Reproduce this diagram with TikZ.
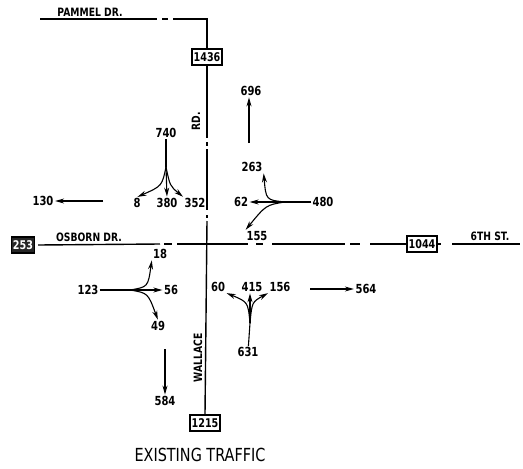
\documentclass[tikz,border=0pt]{standalone}
\usepackage{fontspec}
\setmainfont{DejaVu Sans}[FakeStretch=0.8]
\usetikzlibrary{arrows.meta}
\begin{document}
\begin{tikzpicture}[x=1pt,y=-1pt,
  lab/.style={inner sep=1pt,font=\fontsize{12.5}{14}\selectfont\bfseries},
  road/.style={line width=1.4pt},
  rname/.style={inner sep=0pt,font=\fontsize{11.5}{13}\selectfont\bfseries},
  cnt/.style={draw,line width=1.4pt,inner sep=1.5pt,minimum width=30pt,minimum height=16pt,font=\fontsize{12}{13}\selectfont\bfseries},
  mv/.style={line width=1.1pt},
  arr/.style={mv,-{Stealth[length=9pt,width=5pt]},shorten >=0.5pt}]
\useasboundingbox (0,0) rectangle (523,469);

% ---- roads ----
\node[cnt] (b1436) at (207,57) {1436};
\node[cnt] (b1215) at (205,423) {1215};
\node[cnt] (b1044) at (422,244) {1044};
\node[cnt,fill=black!85,text=white,minimum width=23pt] (b253) at (23,245) {253};

\coordinate (pA) at (40,19);
\coordinate (pB) at (157,19);
\coordinate (pC) at (162,19);
\coordinate (pD) at (168,19);
\coordinate (pE) at (173,19);
\coordinate (pF) at (207,19);
\draw[road] (pA) -- (pB);
\draw[road] (pC) -- (pD);
\draw[road] (pE) -- (pF) -- (b1436.north);

\coordinate (v1) at (207,138);
\coordinate (v2) at (207,142);
\coordinate (v3) at (207,146);
\coordinate (v4) at (207,210);
\coordinate (v5) at (207,215);
\coordinate (v6) at (207,218);
\draw[road] (b1436.south) -- (v1);
\draw[road] (v2) -- (v3);
\draw[road] (v3) ++(0,3) -- (v4);
\draw[road] (v5) -- (v6);
\draw[road] (v6) ++(0,3) -- (b1215.north);

\coordinate (h1) at (160,244);
\coordinate (h2) at (164,244);
\coordinate (h3) at (172,244);
\coordinate (h4) at (177,244);
\coordinate (h5) at (248,244);
\coordinate (h6) at (256,244);
\coordinate (h7) at (263,244);
\coordinate (h8) at (272,244);
\coordinate (h9) at (345,244);
\coordinate (h10) at (350,244);
\coordinate (h11) at (360,244);
\coordinate (h12) at (370,244);
\coordinate (h13) at (441,244);
\coordinate (h14) at (452,244);
\coordinate (h15) at (520,244);
\draw[road] (b253.east) ++(3,0) -- (h1);
\draw[road] (h2) -- (h3);
\draw[road] (h4) -- (h5);
\draw[road] (h6) -- (h7);
\draw[road] (h8) -- (h9);
\draw[road] (h10) -- (h11);
\draw[road] (h12) -- (b1044.west);
\draw[road] (b1044.east) -- (h13);
\draw[road] (h14) -- (h15);

\node[rname] (tpam) at (90,12) {PAMMEL DR.};
\node[rname] (tosb) at (89,237) {OSBORN DR.};
\node[rname] (t6th) at (490,236) {6TH ST.};
\node[rname,rotate=90] (trd) at (196,121) {RD.};
\node[rname,rotate=90] (twal) at (198,358) {WALLACE};

% ---- NW: southbound from 740 ----
\node[lab] (n740) at (166,133) {740};
\coordinate (nwb) at (166,167);
\node[lab] (n8) at (137,203) {8};
\node[lab] (n380) at (167,203) {380};
\node[lab] (n352) at (195,203) {352};
\draw[mv] (n740) -- (nwb);
\draw[arr] (nwb) .. controls (162,186) .. (n8.north);
\draw[arr] (nwb) -- (n380.north);
\draw[arr] (nwb) .. controls (170,186) .. (n352.north west);

% ---- 130 ----
\node[lab] (n130) at (43,201) {130};
\coordinate (s130) at (103,201);
\draw[arr] (s130) -- (n130);

% ---- 696 ----
\node[lab] (n696) at (251,91) {696};
\coordinate (s696) at (249,143);
\draw[arr] (s696) -- (n696.south -| s696);

% ---- NE: westbound from 480 ----
\node[lab] (n480) at (323,202) {480};
\coordinate (neb) at (285,202);
\node[lab] (n263) at (252,167) {263};
\node[lab] (n62) at (241,202) {62};
\node[lab] (n155) at (257,236) {155};
\draw[mv] (n480) -- (neb);
\draw[arr] (neb) .. controls (266,200) .. (n263.south east);
\draw[arr] (neb) -- (n62);
\draw[arr] (neb) .. controls (266,205) .. (n155.north west);

% ---- SW: eastbound from 123 ----
\node[lab] (n123) at (88,290) {123};
\coordinate (swb) at (130,290);
\node[lab] (n18) at (160,254) {18};
\node[lab] (n56) at (171,290) {56};
\node[lab] (n49) at (158,326) {49};
\draw[mv] (n123) -- (swb);
\draw[arr] (swb) .. controls (148,287) .. (n18.south west);
\draw[arr] (swb) -- (n56);
\draw[arr] (swb) .. controls (148,293) .. (n49.north);

% ---- 584 ----
\node[lab] (n584) at (165,401) {584};
\coordinate (s584) at (165,349);
\draw[arr] (s584) -- (n584);

% ---- SE: northbound from 631 ----
\node[lab] (n631) at (248,352) {631};
\coordinate (seb) at (250,323);
\node[lab] (n60) at (218,287) {60};
\node[lab] (n415) at (252,287) {415};
\node[lab] (n156) at (280,287) {156};
\draw[mv] (n631) -- (seb);
\draw[arr] (seb) .. controls (248,302) .. (n60.south east);
\draw[arr] (seb) -- (n415.south -| seb);
\draw[arr] (seb) .. controls (252,302) .. (n156.south west);

% ---- 564 ----
\node[lab] (n564) at (366,289) {564};
\coordinate (s564) at (310,289);
\draw[arr] (s564) -- (n564);

\node[inner sep=0pt,font=\fontsize{18}{20}\selectfont] (title) at (200,455) {EXISTING TRAFFIC};
\end{tikzpicture}
\end{document}
